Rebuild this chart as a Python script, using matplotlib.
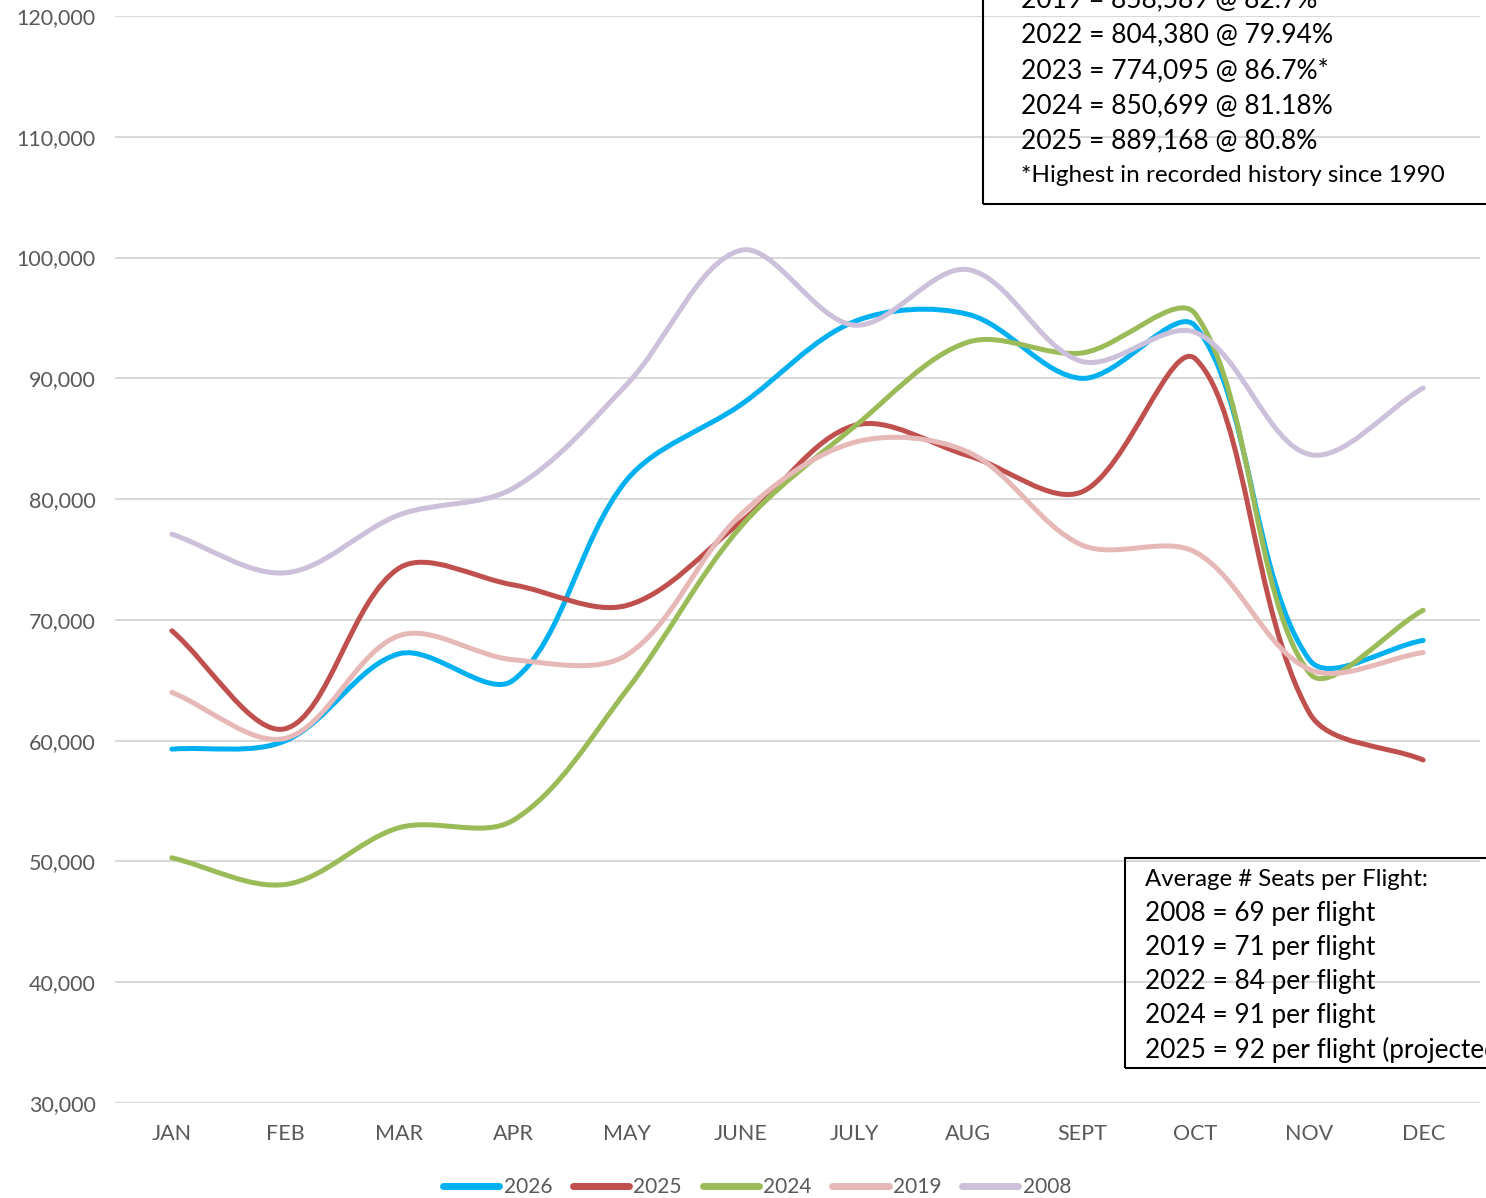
import matplotlib.pyplot as plt
import numpy as np
from matplotlib.path import Path
from matplotlib.patches import PathPatch, Rectangle
from matplotlib.lines import Line2D
from matplotlib.ticker import FuncFormatter

plt.rcParams['font.family'] = ['Lato', 'DejaVu Sans']

months = ["JAN", "FEB", "MAR", "APR", "MAY", "JUNE", "JULY", "AUG", "SEPT", "OCT", "NOV", "DEC"]

seats_2026 = [59300, 60000, 67200, 65000, 81600, 87800, 94700, 95300, 90000, 94300, 66700, 68300]
seats_2025 = [69100, 61000, 74300, 72900, 71200, 78100, 86100, 83600, 80600, 91600, 62300, 58400]
seats_2024 = [50300, 48100, 52800, 53400, 64200, 77700, 86000, 93000, 92100, 95300, 65600, 70800]
seats_2019 = [64000, 60200, 68700, 66700, 67100, 78700, 84700, 83900, 76200, 75600, 65900, 67300]
seats_2008 = [77100, 73900, 78700, 80900, 89500, 100600, 94400, 99000, 91400, 93800, 83700, 89200]

series_names = ["2026", "2025", "2024", "2019", "2008"]
series_colors = ["#00B0F0", "#C0504D", "#9BBB59", "#E6B9B8", "#CCC0DA"]

top_box_lines = [
    "2019 = 858,589 @ 82.7%",
    "2022 = 804,380 @ 79.94%",
    "2023 = 774,095 @ 86.7%*",
    "2024 = 850,699 @ 81.18%",
    "2025 = 889,168 @ 80.8%",
]
top_box_note = "*Highest in recorded history since 1990"

bottom_box_title = "Average # Seats per Flight:"
bottom_box_lines = [
    "2008 = 69 per flight",
    "2019 = 71 per flight",
    "2022 = 84 per flight",
    "2024 = 91 per flight",
    "2025 = 92 per flight (projected)",
]


def smooth_path(ax, xs, ys):
    # Excel-like smoothed line, worked out in screen space so that the
    # tangents are weighted by neighbouring segment lengths
    pts = ax.transData.transform(np.column_stack([xs, ys]).astype(float))
    n = len(pts)
    ext = np.vstack([pts[0], pts, pts[-1]])
    seg = np.linalg.norm(np.diff(ext, axis=0), axis=1)
    verts = [pts[0]]
    codes = [Path.MOVETO]
    for i in range(n - 1):
        j = i + 1  # index in ext
        p0, p1, p2, p3 = ext[j - 1], ext[j], ext[j + 1], ext[j + 2]
        d01, d12, d23 = seg[j - 1], seg[j], seg[j + 1]
        w1 = d12 / (d01 + d12) if d01 + d12 > 0 else 0.5
        w2 = d12 / (d12 + d23) if d12 + d23 > 0 else 0.5
        c1 = p1 + (p2 - p0) * w1 / 3.0
        c2 = p2 - (p3 - p1) * w2 / 3.0
        verts += [c1, c2, p2]
        codes += [Path.CURVE4] * 3
    verts = ax.transData.inverted().transform(np.array(verts))
    return Path(verts, codes)


W, H = 1486, 1198
fig = plt.figure(figsize=(W / 100, H / 100), dpi=100)
ax = fig.add_axes([115 / W, 1 - 1103 / H, (1480 - 115) / W, (1103 - 16) / H])
ax.set_xlim(-0.5, 11.5)
ax.set_ylim(30000, 120000)

x = np.arange(len(months))
all_series = [seats_2026, seats_2025, seats_2024, seats_2019, seats_2008]
for vals, color in zip(all_series, series_colors):
    patch = PathPatch(smooth_path(ax, x, vals), facecolor="none", edgecolor=color,
                      lw=3.6, capstyle="round", joinstyle="round", zorder=3)
    ax.add_patch(patch)

ax.set_yticks(np.arange(30000, 120001, 10000))
ax.yaxis.set_major_formatter(FuncFormatter(lambda v, p: f"{int(v):,}"))
ax.set_xticks(x)
ax.set_xticklabels(months)
ax.grid(axis="y", color="#D9D9D9", lw=1.5, zorder=0)
ax.set_axisbelow(True)
for s in ax.spines.values():
    s.set_visible(False)
ax.tick_params(axis="both", length=0, labelsize=15.5, colors="#595959")
ax.tick_params(axis="y", pad=14)
ax.tick_params(axis="x", pad=15)

# top right text box (runs off the figure edge)
fig.patches.append(Rectangle((983 / W, 1 - 204 / H), 0.5, 0.5, transform=fig.transFigure,
                             fill=False, edgecolor="black", lw=1.5, zorder=5))
for i, line in enumerate(top_box_lines):
    fig.text(1021 / W, 1 - (0 + 35.2 * i) / H, line, fontsize=19, va="center",
             ha="left", color="black")
fig.text(1021 / W, 1 - 175 / H, top_box_note, fontsize=17.5, va="center", ha="left",
         color="black")

# bottom right text box
fig.patches.append(Rectangle((1125 / W, 1 - 1068 / H), 0.5, (1068 - 858) / H,
                             transform=fig.transFigure, fill=False, edgecolor="black",
                             lw=1.5, zorder=5))
fig.text(1145 / W, 1 - 880 / H, bottom_box_title, fontsize=17.3, va="center", ha="left")
for i, line in enumerate(bottom_box_lines):
    fig.text(1145 / W, 1 - (913 + 34.3 * i) / H, line, fontsize=18.8, va="center", ha="left")

handles = [Line2D([], [], color=c, lw=5, solid_capstyle="round") for c in series_colors]
fig.legend(handles, series_names, loc="center", bbox_to_anchor=(757 / W, 1 - 1187 / H),
           ncol=5, frameon=False, fontsize=15, handlelength=2.7, handletextpad=0.2,
           columnspacing=1.0, labelcolor="#595959")

fig.savefig("out.png", dpi=100)
